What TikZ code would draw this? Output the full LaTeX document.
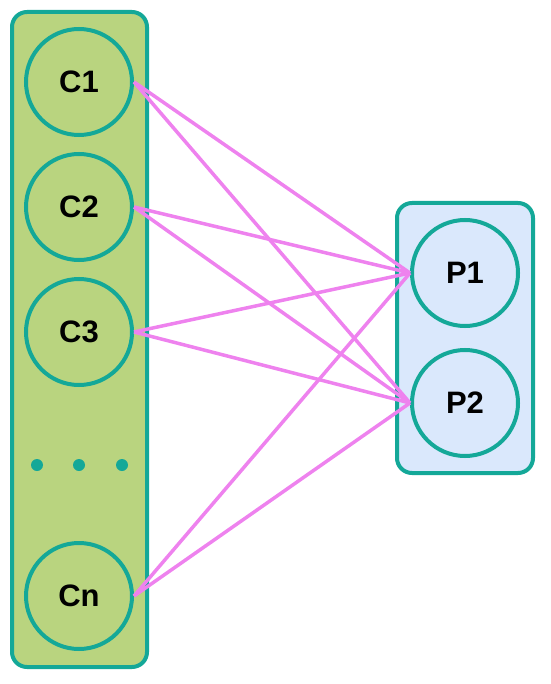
\documentclass[tikz,border=0pt]{standalone}
\usepackage{fontspec}
\setmainfont{Liberation Sans}
\definecolor{rim}{HTML}{14A898}
\definecolor{leaf}{HTML}{B9D47F}
\definecolor{sky}{HTML}{DAE8FC}
\definecolor{wire}{HTML}{EE82EE}
\tikzset{epais/.style={line width=4pt}}
\newcommand{\panel}[5]{\draw[epais, rim, fill=#5, rounded corners=15pt] (#1,#2) rectangle (#3,#4)}
\newcommand{\dotp}[1]{\fill[rim] (#1) circle (6)}

\begin{document}
\begin{tikzpicture}[x=1pt, y=-1pt,
	ball/.style = {circle, draw=rim, epais, minimum size=106pt, inner sep=0pt,
		font=\fontsize{31}{35}\selectfont\bfseries},
	link/.style = {wire, line width=3.5pt}]
	\useasboundingbox (0,0) rectangle (550,684);
%Panels
	\panel{12}{12}{147}{667}{leaf};
	\panel{397}{203}{533}{473}{sky};
%The clients
	\node[ball] (c1) at (79,82) {C1};
	\node[ball] (c2) at (79,207) {C2};
	\node[ball] (c3) at (79,332) {C3};
	\node[ball] (cn) at (79,596) {Cn};
	\dotp{37,465};
	\dotp{79,465};
	\dotp{122,465};
%The servers
	\node[ball] (p1) at (465,273) {P1};
	\node[ball] (p2) at (465,403) {P2};
%Links
	\foreach \c in {c1,c2,c3,cn}
		\foreach \p in {p1,p2}
			\draw[link] (\c.east) -- (\p.west);
\end{tikzpicture}
\end{document}
